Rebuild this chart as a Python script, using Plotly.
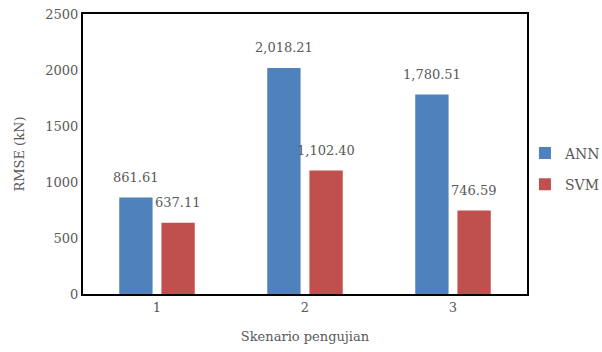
import plotly.graph_objects as go

scenarios = ["1", "2", "3"]
ann_rmse = [861.61, 2018.21, 1780.51]
svm_rmse = [637.11, 1102.40, 746.59]
y_ticks = [0, 500, 1000, 1500, 2000, 2500]

FONT = "DejaVu Serif"
GREY = "#595959"

fig = go.Figure()
fig.add_trace(go.Bar(name="ANN", x=scenarios, y=ann_rmse, marker_color="#4F81BD",
                     marker_line_width=0, offsetgroup="a", legendgroup="a"))
fig.add_trace(go.Bar(name="SVM", x=scenarios, y=svm_rmse, marker_color="#C0504D",
                     marker_line_width=0, offsetgroup="b", legendgroup="b"))

# value labels above each bar
for vals, shift in ((ann_rmse, -0.142), (svm_rmse, 0.142)):
    for i, v in enumerate(vals):
        fig.add_annotation(x=i + shift, y=v, text=f"{v:,.2f}", showarrow=False,
                           yshift=20, font=dict(family=FONT, size=13, color=GREY),
                           xref="x", yref="y")

fig.update_layout(
    width=602, height=352,
    margin=dict(l=83, r=75, t=14, b=58, autoexpand=False),
    paper_bgcolor="white", plot_bgcolor="white",
    barmode="group", bargap=0.43, bargroupgap=0.21,
    font=dict(family=FONT, size=13, color=GREY),
    showlegend=True,
    legend=dict(xref="container", yref="container", x=0.872, y=0.52,
                xanchor="left", yanchor="middle",
                font=dict(family=FONT, size=14, color=GREY),
                itemwidth=30, tracegroupgap=10, bgcolor="rgba(0,0,0,0)"),
    xaxis=dict(title=dict(text="Skenario pengujian", standoff=18,
                          font=dict(family=FONT, size=13, color=GREY)),
               showline=True, linecolor="black", linewidth=2, mirror=True,
               ticks="", tickfont=dict(family=FONT, size=13, color=GREY)),
    yaxis=dict(title=dict(text="RMSE (kN)", standoff=18,
                          font=dict(family=FONT, size=13, color=GREY)),
               range=[0, 2500], tickvals=y_ticks, showgrid=False, zeroline=False,
               showline=True, linecolor="black", linewidth=2, mirror=True,
               ticks="", tickfont=dict(family=FONT, size=13, color=GREY)),
)

fig.write_html("out.html")
